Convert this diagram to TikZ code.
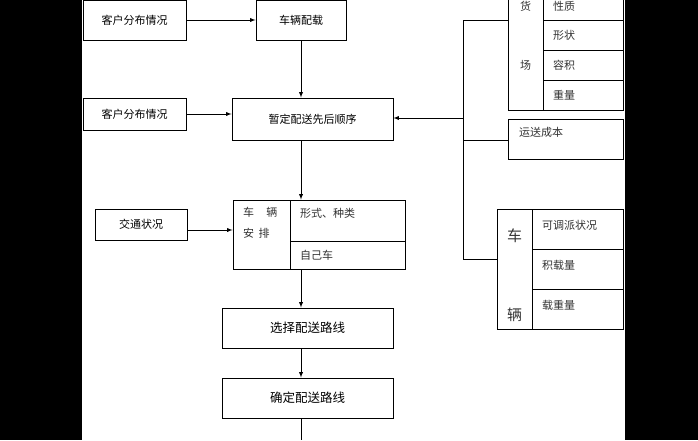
\documentclass[tikz,border=0pt]{standalone}
\usepackage{fontspec}
\newfontfamily\cjk{Noto Sans CJK SC}
\begin{document}
\begin{tikzpicture}[x=1pt,y=-1pt,font=\cjk\fontsize{11}{13}\selectfont,
  bx/.style={draw,line width=0.9pt,inner sep=0pt},
  ln/.style={line width=0.9pt},
  ar/.style={ln,-latex},
  tx/.style={inner sep=0pt,text=black!80}]
\fill[black] (0,0) rectangle (698,440);
\fill[white] (82,0) rectangle (625,440);
\useasboundingbox (0,0) rectangle (698,440);
% left boxes
\node[bx,minimum width=103pt,minimum height=40pt] (k1) at (134.5,20) {客户分布情况};
\node[bx,minimum width=90pt,minimum height=40pt] (pz) at (301,20) {车辆配载};
\node[bx,minimum width=103pt,minimum height=32pt] (k2) at (134.5,114) {客户分布情况};
\node[bx,minimum width=161pt,minimum height=42pt] (zd) at (312.5,119) {暂定配送先后顺序};
\node[bx,minimum width=92pt,minimum height=31pt] (jt) at (141,224.5) {交通状况};
\node[bx,minimum width=172pt,minimum height=69pt] (ap) at (319,234.5) {};
\draw[ln] (290,200) -- (290,269) (290,241) -- (405,241);
\node[tx,anchor=north west] at (243,207) {车\hspace{1.1em}辆};
\node[tx,anchor=north west] at (243,228) {安\hspace{0.4em}排};
\node[tx,anchor=west] at (300,213) {形式、种类};
\node[tx,anchor=west] at (300,255) {自己车};
\node[bx,minimum width=171pt,minimum height=40pt,font=\cjk\fontsize{12.5}{14}\selectfont] (xz) at (307.5,328) {选择配送路线};
\node[bx,minimum width=171pt,minimum height=40pt,font=\cjk\fontsize{12.5}{14}\selectfont] (qd) at (307.5,398) {确定配送路线};
\coordinate (end) at (301,440);
% arrows
\draw[ar] (k1.east) -- (pz.west);
\draw[ar] (pz.south) -- (zd.north -| pz.south);
\draw[ar] (k2.east) -- (k2.east -| zd.west);
\draw[ar] (zd.south -| pz.south) -- (ap.north -| pz.south);
\draw[ar] (jt.east |- 0,230) -- (ap.west |- 0,230);
\draw[ar] (ap.south -| pz.south) -- (xz.north -| pz.south);
\draw[ar] (xz.south -| pz.south) -- (qd.north -| pz.south);
\draw[ln] (qd.south -| pz.south) -- (end);
% right: 货场
\node[bx,minimum width=115pt,minimum height=112pt] (hc) at (565.5,54) {};
\draw[ln] (543,-2) -- (543,110);
\foreach \y in {20,50,80} \draw[ln] (543,\y) -- (623,\y);
\node[tx] at (525.5,6) {货};
\node[tx] at (525.5,65) {场};
\node[tx,anchor=west] at (553,6) {性质};
\node[tx,anchor=west] at (553,35) {形状};
\node[tx,anchor=west] at (553,65) {容积};
\node[tx,anchor=west] at (553,95) {重量};
\node[bx,minimum width=115pt,minimum height=40pt] (cb) at (565.5,139.5) {};
\node[tx,anchor=west] at (519,132) {运送成本};
\node[bx,minimum width=126pt,minimum height=120pt] (cl) at (560,269) {};
\draw[ln] (532,209) -- (532,329);
\foreach \y in {249,289} \draw[ln] (532,\y) -- (623,\y);
\node[tx,font=\cjk\fontsize{15}{17}\selectfont] at (514.5,236) {车};
\node[tx,font=\cjk\fontsize{15}{17}\selectfont] at (514.5,315) {辆};
\node[tx,anchor=west] at (542,225) {可调派状况};
\node[tx,anchor=west] at (542,265) {积载量};
\node[tx,anchor=west] at (542,305) {载重量};
% bus
\coordinate (b1) at (463,20);
\coordinate (b2) at (463,259);
\draw[ln] (hc.west |- b1) -- (b1) -- (b2) -- (cl.west |- b2);
\draw[ln] (463,140) -- (cb.west |- 0,140);
\draw[ar] (463,118) -- (zd.east |- 0,118);
\end{tikzpicture}
\end{document}
